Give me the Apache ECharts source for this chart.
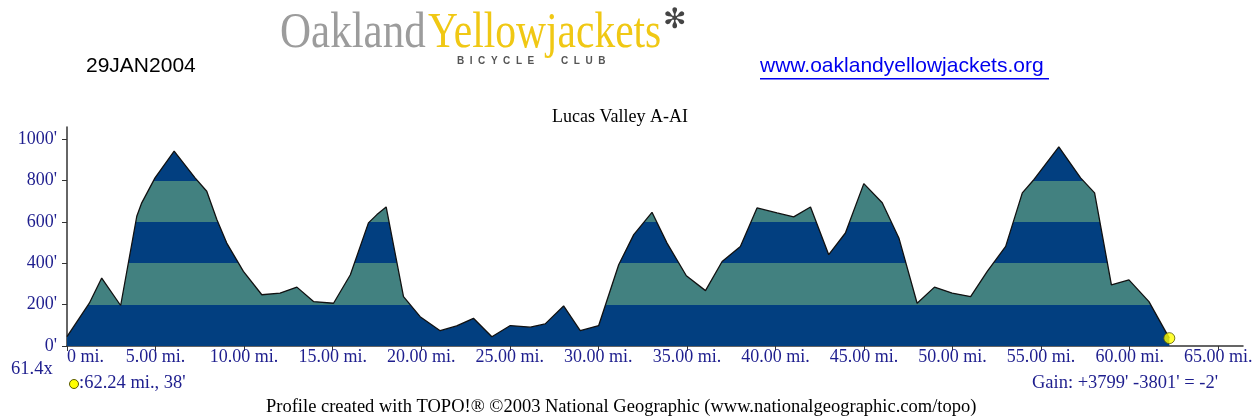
<!DOCTYPE html>
<html>
<head>
<meta charset="utf-8">
<script src="https://cdn.jsdelivr.net/npm/echarts@6/dist/echarts.min.js"></script>
<style>
  html, body { margin: 0; padding: 0; background: #fff; }
  #chart { width: 1256px; height: 419px; }
</style>
</head>
<body>
<div id="chart"></div>
<script>
const miles = [0, 1.26, 1.96, 3.03, 3.94, 4.22, 4.97, 6.05, 7.23, 7.89, 8.46, 9.02, 9.96, 11.0, 12.03, 12.98, 13.92, 15.05, 16.0, 17.02, 17.5, 18.02, 19.0, 19.94, 21.07, 22.0, 22.95, 23.99, 25.03, 26.16, 27.0, 28.04, 28.98, 30.02, 31.15, 32.0, 33.03, 33.88, 34.97, 36.05, 36.99, 38.02, 38.96, 40.09, 41.03, 41.98, 43.01, 43.95, 44.99, 46.03, 46.97, 48.0, 48.98, 49.98, 51.02, 51.96, 53.0, 53.94, 54.6, 56.0, 57.23, 58.02, 58.97, 59.96, 61.09, 62.24];
const elevFt = [45, 207, 329, 196, 628, 693, 814, 943, 814, 749, 612, 498, 361, 248, 256, 285, 215, 207, 345, 596, 636, 673, 239, 142, 74, 97, 134, 45, 99, 91, 107, 194, 74, 99, 393, 539, 647, 498, 340, 268, 409, 482, 668, 644, 625, 673, 442, 547, 786, 693, 523, 207, 285, 256, 239, 361, 482, 741, 806, 964, 814, 741, 296, 320, 215, 38];
const endPoint = [62.24, 38];
const xTickValues = [0, 5, 10, 15, 20, 25, 30, 35, 40, 45, 50, 55, 60, 65];
const xTickLabels = ['0 mi.', '5.00 mi.', '10.00 mi.', '15.00 mi.', '20.00 mi.', '25.00 mi.', '30.00 mi.', '35.00 mi.', '40.00 mi.', '45.00 mi.', '50.00 mi.', '55.00 mi.', '60.00 mi.', '65.00 mi.'];
const yTickValues = [0, 200, 400, 600, 800, 1000];
const yTickLabels = ["0'", "200'", "400'", "600'", "800'", "1000'"];
const bandEdges = [200, 400, 600, 800];
const titleText = 'Lucas Valley A-AI';

const DARK = '#023f80';
const TEAL = '#428180';
const NAVY = '#1e1e8e';

const profile = miles.map((m, i) => [m, elevFt[i]]);

const chart = echarts.init(document.getElementById('chart'), null, { renderer: 'canvas' });

const serif = '"Liberation Serif", "Times New Roman", serif';
const sans = '"Liberation Sans", Arial, sans-serif';

chart.setOption({
  animation: false,
  backgroundColor: '#ffffff',
  title: {
    text: titleText,
    left: 547, top: 103,
    textStyle: { fontFamily: serif, fontSize: 18, fontWeight: 'normal', color: '#000' }
  },
  grid: { left: 67, right: 13, top: 127, bottom: 73, containLabel: false },
  xAxis: {
    type: 'value', min: 0, max: 66.4,
    axisLine: { show: true, lineStyle: { color: '#333', width: 1.5 } },
    axisTick: { show: true, customValues: xTickValues, length: 5, lineStyle: { color: '#333', width: 1 } },
    axisLabel: {
      customValues: xTickValues,
      formatter: v => xTickLabels[xTickValues.indexOf(v)],
      fontFamily: serif, fontSize: 18, color: NAVY, margin: 2,
      alignMinLabel: 'left'
    },
    splitLine: { show: false }
  },
  yAxis: {
    type: 'value', min: 0, max: 1060,
    axisLine: { show: true, lineStyle: { color: '#333', width: 1.5 } },
    axisTick: { show: true, customValues: yTickValues, length: 5, lineStyle: { color: '#333', width: 1 } },
    axisLabel: {
      customValues: yTickValues,
      formatter: v => yTickLabels[yTickValues.indexOf(v)],
      fontFamily: serif, fontSize: 18, color: NAVY, margin: 10
    },
    splitLine: { show: false }
  },
  visualMap: {
    type: 'piecewise', show: false, dimension: 1, seriesIndex: 0,
    pieces: [
      { lt: bandEdges[0], color: DARK },
      { gte: bandEdges[0], lt: bandEdges[1], color: TEAL },
      { gte: bandEdges[1], lt: bandEdges[2], color: DARK },
      { gte: bandEdges[2], lt: bandEdges[3], color: TEAL },
      { gte: bandEdges[3], color: DARK }
    ]
  },
  series: [
    {
      type: 'line', data: profile, showSymbol: false, symbol: 'none',
      lineStyle: { width: 0 },
      areaStyle: { opacity: 1 },
      z: 1
    },
    {
      type: 'line', data: profile, showSymbol: false, symbol: 'none',
      lineStyle: { width: 1.3, color: '#111' },
      z: 2
    },
    {
      type: 'scatter', data: [endPoint], symbol: 'circle', symbolSize: 11,
      itemStyle: { color: '#ffff00', borderColor: '#5a5a00', borderWidth: 1 },
      z: 3
    }
  ],
  graphic: [
    { type: 'text', left: 280, top: 9, style: { text: 'Oakland', fontFamily: serif, fontSize: 50, fill: '#9c9c9c' }, scaleX: 0.86 },
    { type: 'text', left: 428, top: 9, style: { text: 'Yellowjackets', fontFamily: serif, fontSize: 50, fill: '#f0c814' }, scaleX: 0.83 },
    { type: 'text', left: 457, top: 56, style: { text: 'B  I  C  Y  C  L  E', fontFamily: sans, fontSize: 10, fontWeight: 'bold', fill: '#555' } },
    { type: 'text', left: 561, top: 56, style: { text: 'C  L  U  B', fontFamily: sans, fontSize: 10, fontWeight: 'bold', fill: '#555' } },
    { type: 'text', left: 663, top: 7, style: { text: '✻', fontFamily: '"DejaVu Sans"', fontSize: 28, fill: '#444' } },
    { type: 'text', left: 86, top: 56, style: { text: '29JAN2004', fontFamily: sans, fontSize: 21, fill: '#000' } },
    { type: 'text', left: 760, top: 56, style: { text: 'www.oaklandyellowjackets.org', fontFamily: sans, fontSize: 21, fill: '#0000ee' } },
    { type: 'rect', shape: { x: 760, y: 78, width: 289, height: 1.5 }, style: { fill: '#0000ee' } },
    { type: 'text', left: 11, top: 360, style: { text: '61.4x', fontFamily: serif, fontSize: 18.5, fill: NAVY } },
    { type: 'circle', shape: { cx: 74, cy: 384, r: 4.5 }, style: { fill: '#ffff00', stroke: '#5a5a00', lineWidth: 1 } },
    { type: 'text', left: 79, top: 374, style: { text: ":62.24 mi., 38'", fontFamily: serif, fontSize: 18.5, fill: NAVY } },
    { type: 'text', right: 38, top: 374, style: { text: "Gain: +3799' -3801' = -2'", fontFamily: serif, fontSize: 18.5, fill: NAVY } },
    { type: 'text', left: 266, top: 398, style: { text: 'Profile created with TOPO!® ©2003 National Geographic (www.nationalgeographic.com/topo)', fontFamily: serif, fontSize: 18.5, fill: '#000' } }
  ]
});
</script>
</body>
</html>
